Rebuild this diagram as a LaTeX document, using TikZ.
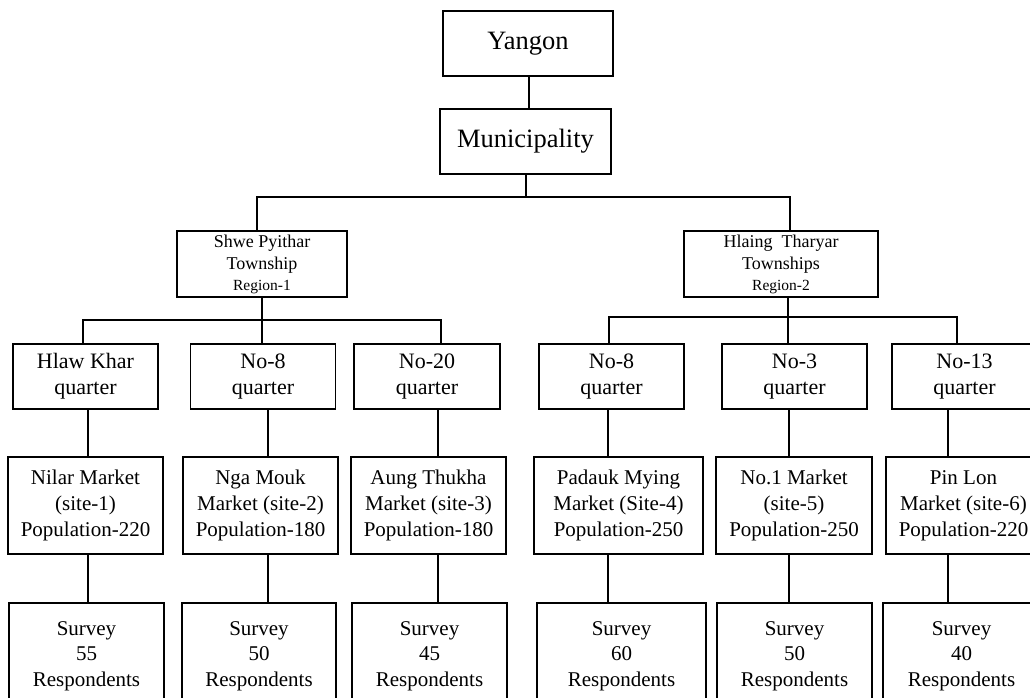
\documentclass[tikz,border=0pt]{standalone}
\usepackage{fontspec}
\setmainfont{Liberation Serif}
\begin{document}
\begin{tikzpicture}[x=1pt,y=-1pt,
  box/.style={draw, line width=1.6pt, inner sep=0pt, align=center},
  conn/.style={line width=1.6pt},
  big/.style={font=\fontsize{26.5}{30}\selectfont},
  twn/.style={font=\fontsize{18}{22}\selectfont, minimum height=66pt},
  qtr/.style={font=\fontsize{22}{26}\selectfont, minimum height=65pt, minimum width=145pt},
  mkt/.style={font=\fontsize{21}{26}\selectfont, minimum height=97pt},
  srv/.style={font=\fontsize{21}{25.5}\selectfont, minimum height=106pt}]
\useasboundingbox (0,0) rectangle (1030,698);
% top
\node[box,big,minimum width=170pt,minimum height=65pt] (yg) at (528,43.5) {Yangon};
\node[box,big,minimum width=171pt,minimum height=65pt] (mu) at (525.5,141.5) {Municipality};
% townships
\node[box,twn,minimum width=170pt] (sh) at (262,264) {Shwe Pyithar\\Township\\[-1pt]{\fontsize{15.5}{19}\selectfont Region-1}};
\node[box,twn,minimum width=194pt] (hl) at (781,264) {Hlaing\ \ Tharyar\\Townships\\[-1pt]{\fontsize{15.5}{19}\selectfont Region-2}};
% quarters
\node[box,qtr] (q1) at (85.5,376.5) {Hlaw Khar\\quarter};
\node[box,qtr] (q2) at (263,376.5) {No-8\\quarter};
\node[box,qtr,minimum width=146pt] (q3) at (427,376.5) {No-20\\quarter};
\node[box,qtr] (q4) at (611.5,376.5) {No-8\\quarter};
\node[box,qtr] (q5) at (794.5,376.5) {No-3\\quarter};
\node[box,qtr] (q6) at (964.5,376.5) {No-13\\quarter};
% markets
\node[box,mkt,minimum width=155pt] (m1) at (85.5,505.5) {Nilar Market\\(site-1)\\Population-220};
\node[box,mkt,minimum width=155pt] (m2) at (260.5,505.5) {Nga Mouk\\Market (site-2)\\Population-180};
\node[box,mkt,minimum width=155pt] (m3) at (428.5,505.5) {Aung Thukha\\Market (site-3)\\Population-180};
\node[box,mkt,minimum width=169pt] (m4) at (618.5,505.5) {Padauk Mying\\Market (Site-4)\\Population-250};
\node[box,mkt,minimum width=156pt] (m5) at (794,505.5) {No.1 Market\\(site-5)\\Population-250};
\node[box,mkt,minimum width=155pt] (m6) at (963.5,505.5) {Pin Lon\\Market (site-6)\\Population-220};
% surveys
\node[box,srv,minimum width=155pt] (s1) at (86.5,656) {Survey\\55\\Respondents};
\node[box,srv,minimum width=154pt] (s2) at (259,656) {Survey\\50\\Respondents};
\node[box,srv,minimum width=155pt] (s3) at (429.5,656) {Survey\\45\\Respondents};
\node[box,srv,minimum width=169pt] (s4) at (621.5,656) {Survey\\60\\Respondents};
\node[box,srv,minimum width=155pt] (s5) at (794.5,656) {Survey\\50\\Respondents};
\node[box,srv,minimum width=157pt] (s6) at (961.5,656) {Survey\\40\\Respondents};
% connector coordinates
\coordinate (k0) at (529,0);
\coordinate (k1) at (526,0);
\coordinate (busL) at (257,197);
\coordinate (busR) at (790,197);
\coordinate (lbL) at (83,320);
\coordinate (lbM) at (262,320);
\coordinate (lbR) at (441,320);
\coordinate (rbL) at (609,317);
\coordinate (rbM) at (788,317);
\coordinate (rbR) at (957,317);
\coordinate (c1) at (88,0);
\coordinate (c2) at (268,0);
\coordinate (c3) at (438,0);
\coordinate (c4) at (608,0);
\coordinate (c5) at (789,0);
\coordinate (c6) at (948,0);
% connectors
\draw[conn] (yg.south -| k0) -- (mu.north -| k0);
\draw[conn] (mu.south -| k1) -- (k1 |- busL);
\draw[conn] (sh.north -| busL) -- (busL) -- (busR) -- (hl.north -| busR);
\draw[conn] (sh.south -| lbM) -- (lbM);
\draw[conn] (q1.north -| lbL) -- (lbL) -- (lbR) -- (q3.north -| lbR);
\draw[conn] (lbM) -- (q2.north -| lbM);
\draw[conn] (hl.south -| rbM) -- (rbM);
\draw[conn] (q4.north -| rbL) -- (rbL) -- (rbR) -- (q6.north -| rbR);
\draw[conn] (rbM) -- (q5.north -| rbM);
\foreach \i in {1,...,6}{
  \draw[conn] (q\i.south -| c\i) -- (m\i.north -| c\i);
  \draw[conn] (m\i.south -| c\i) -- (s\i.north -| c\i);
}
\end{tikzpicture}
\end{document}
